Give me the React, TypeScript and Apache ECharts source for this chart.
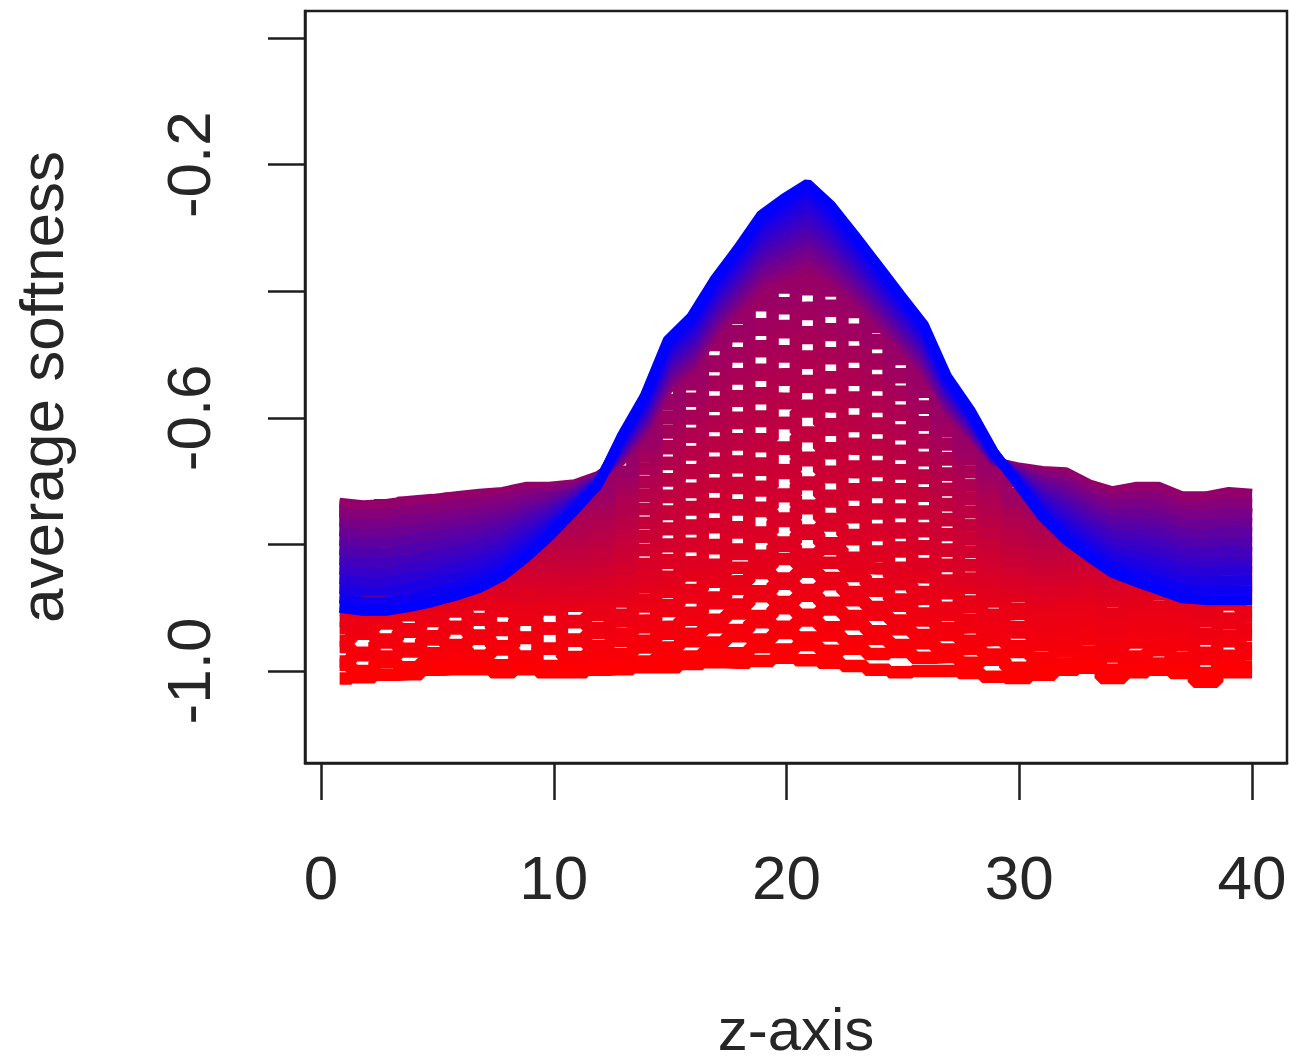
import React, { useEffect, useRef } from "react";
import * as echarts from "echarts";

const zPositions = [0.8,1.8,2.8,3.8,4.8,5.8,6.8,7.8,8.8,9.8,10.9,11.9,12.9,13.9,14.9,15.9,16.9,17.9,18.9,19.9,20.9,21.9,22.9,23.9,24.9,25.9,26.9,27.9,28.9,29.9,31,32,33,34,35,36,37,38,39,40];
const xTickValues = [0, 10, 20, 30, 40];
const yTickValues = [0, -0.2, -0.4, -0.6, -0.8, -1.0];
const yLabelValues = [-0.2, -0.6, -1.0];

// magnitude of the average softness, in thousandths (value = -m / 1000)
const redToPurpleLines = [
[1012,1010,1006,1005,998,997,997,1002,997,1002,1002,998,997,994,994,989,986,987,984,979,983,987,992,998,1002,1000,1000,1003,1009,1011,1006,998,995,1011,1002,998,1003,1017,1002,1002],
[990,1000,986,994,984,981,988,991,979,992,985,989,981,985,975,977,968,972,962,966,959,968,965,973,970,979,978,987,982,995,989,988,979,998,986,988,987,1003,985,993],
[985,975,977,969,972,965,976,966,977,965,978,970,973,963,963,953,955,945,950,940,947,944,953,949,959,956,966,965,974,970,979,969,969,977,977,967,979,981,976,973],
[962,971,955,965,950,959,949,961,948,965,952,961,952,952,941,941,931,935,923,930,920,931,926,937,934,943,943,952,951,961,959,958,949,965,955,958,959,971,953,964],
[952,941,950,938,945,933,944,935,947,933,950,940,941,931,930,919,919,909,913,901,911,903,913,911,920,920,932,931,942,939,947,940,938,947,944,941,947,949,945,943],
[932,935,925,934,921,930,919,932,919,933,923,932,921,920,905,908,893,895,882,891,881,892,888,899,897,909,911,919,922,931,929,927,923,937,927,928,929,941,925,933],
[921,917,915,912,915,906,918,905,916,903,921,911,911,898,896,884,884,870,874,862,872,863,875,873,887,886,900,899,911,910,919,911,911,919,915,911,919,921,917,914],
[903,903,901,899,898,897,895,895,897,900,897,902,890,887,875,872,859,858,845,854,843,853,850,863,863,875,877,890,890,902,900,899,893,909,896,899,901,911,895,906],
[893,889,887,885,883,881,881,881,879,885,887,883,882,867,861,849,847,837,835,823,833,829,837,838,851,852,868,869,882,882,890,883,883,889,889,879,892,892,887,885],
[884,878,878,874,878,870,879,863,883,867,883,872,874,854,851,832,832,815,818,802,816,807,821,818,837,835,857,855,873,871,885,869,877,884,876,876,880,886,878,880],
[874,870,868,872,866,868,857,875,859,873,867,873,855,852,829,828,806,808,788,797,783,798,792,811,811,831,834,854,854,872,867,875,859,874,868,864,872,880,868,870],
[868,862,864,858,860,854,863,847,865,857,869,855,856,833,825,803,801,781,781,763,778,770,785,785,805,807,832,833,855,855,869,853,863,868,860,862,864,870,860,866],
[860,858,852,856,850,852,843,859,845,861,853,859,837,831,803,799,773,773,747,759,743,760,757,777,781,803,810,833,836,857,853,859,845,862,854,852,858,864,854,858],
[852,848,850,844,846,840,851,837,853,843,855,840,838,809,800,775,768,745,742,724,739,732,749,751,775,779,808,812,836,839,855,841,849,852,848,846,850,856,848,850],
[846,842,840,842,836,838,829,843,835,847,837,843,819,809,776,770,741,738,715,721,705,723,721,745,749,775,785,811,818,841,837,845,831,846,840,838,844,848,838,844],
[838,834,836,830,832,826,837,825,839,827,841,825,820,788,775,745,736,711,709,687,702,694,713,717,745,751,784,791,818,823,841,827,835,838,832,832,836,842,834,836],
[830,828,826,828,822,824,815,831,821,833,823,827,800,787,752,741,709,703,682,683,667,685,686,710,719,748,762,790,799,825,823,831,817,832,826,824,830,834,826,830],
[824,820,822,816,818,814,825,813,827,815,827,810,802,766,748,717,704,678,672,649,663,656,677,684,713,723,760,770,800,807,827,813,821,824,820,818,822,828,820,822],
[816,814,810,814,808,812,803,819,807,819,809,813,782,766,725,712,679,669,645,647,629,648,649,677,688,719,738,770,781,809,809,817,803,818,812,810,816,820,812,816],
[810,806,808,802,804,800,811,799,813,801,813,795,784,744,723,687,671,642,634,608,623,619,641,650,683,695,736,749,782,791,813,799,807,810,806,804,808,812,806,808],
[802,800,796,800,794,798,789,805,793,805,795,797,764,744,699,683,645,634,605,608,590,610,613,643,657,691,714,748,763,793,795,803,789,804,798,796,802,806,798,802],
[794,792,792,786,790,786,797,785,799,787,797,779,766,722,697,658,639,608,598,577,581,582,605,616,652,667,712,728,763,775,797,785,793,796,792,790,794,798,792,794],
[788,784,780,784,778,782,775,791,779,791,781,782,747,723,673,654,613,600,569,570,551,572,575,609,626,663,690,727,745,777,781,787,775,790,784,782,788,792,784,788],
[780,778,776,772,776,772,783,771,785,773,783,764,748,702,671,630,606,573,561,540,542,544,568,582,620,639,688,707,746,760,783,771,779,782,778,776,780,784,778,780],
[774,770,766,770,764,768,761,777,765,777,767,767,729,701,648,625,581,566,532,531,513,536,540,575,595,635,666,707,727,762,767,773,761,776,770,768,774,778,770,774],
[766,764,762,758,762,758,769,757,771,759,769,749,730,680,645,601,575,538,524,503,503,506,531,548,589,611,664,686,728,744,769,757,765,768,764,762,766,770,764,766],
[760,756,752,756,750,754,747,763,751,761,751,752,711,680,623,597,548,531,495,495,474,498,503,541,564,607,642,685,709,746,753,759,747,762,756,754,760,764,756,760],
[754,752,750,746,750,746,755,743,749,739,747,733,713,659,620,573,543,503,487,465,465,469,496,514,559,584,641,664,709,729,755,743,751,754,750,748,752,756,750,752],
[750,746,742,746,740,744,737,749,733,743,731,737,697,660,600,570,518,498,461,455,436,460,469,508,536,582,621,666,692,733,743,749,737,750,746,744,750,752,746,748],
[746,744,744,740,742,738,741,729,737,725,735,722,701,643,598,547,511,471,452,427,426,431,461,482,531,559,621,649,698,720,745,733,741,746,742,740,744,748,742,744],
[742,744,740,738,736,734,727,735,721,731,719,727,685,645,578,543,485,463,422,419,397,423,433,477,507,557,602,653,685,727,731,735,725,740,738,736,740,744,738,740],
[738,742,738,734,732,728,726,724,716,716,714,712,686,632,572,525,475,442,410,394,383,399,421,456,499,541,598,640,682,700,700,702,716,726,720,720,732,732,726,730],
];

const purpleToBlueLines = [
[734,738,736,731,728,724,720,717,709,709,705,692,668,625,555,525,470,430,395,380,365,385,415,450,490,530,590,630,670,678,684,686,705,716,709,709,724,724,717,720],
[749,753,751,746,743,738,734,729,719,716,709,693,664,620,548,517,462,421,384,368,353,374,405,442,482,523,585,626,668,680,691,696,715,728,723,724,739,739,733,735],
[764,768,767,761,758,753,747,741,729,723,712,695,661,614,541,510,454,412,374,357,340,363,396,433,475,516,580,622,667,683,697,705,726,739,736,739,753,754,748,751],
[779,784,782,777,772,767,761,753,740,731,716,696,657,609,534,502,446,404,363,345,328,352,386,425,467,509,575,619,666,685,704,715,736,751,750,754,768,769,764,766],
[794,799,797,792,787,781,775,765,750,738,720,697,654,604,527,494,438,395,353,334,316,341,377,417,459,502,570,615,664,687,710,725,747,763,764,769,782,784,779,781],
[809,814,813,807,802,795,788,777,760,745,724,698,650,598,520,487,430,386,342,322,304,330,367,408,452,495,565,611,663,690,717,735,757,775,777,783,797,799,795,796],
[825,829,828,823,817,810,801,790,770,752,727,700,647,593,513,479,422,377,332,311,291,319,358,400,444,488,560,607,661,692,724,744,768,786,791,798,812,814,810,812],
[840,844,844,838,832,824,815,802,780,759,731,701,643,587,506,471,414,368,321,299,279,308,348,391,437,481,555,603,660,694,730,754,778,798,804,813,826,828,826,827],
[855,859,859,853,847,838,828,814,790,766,735,702,640,582,498,464,406,360,311,288,267,297,339,383,429,474,550,600,658,696,737,764,789,810,818,827,841,843,841,842],
[870,874,874,868,861,852,842,826,801,773,739,703,636,577,491,456,398,351,300,276,254,286,329,375,421,467,545,596,657,699,744,773,799,822,832,842,856,858,857,857],
[885,890,890,884,876,867,855,838,811,781,742,705,633,571,484,449,390,342,290,265,242,275,320,366,414,460,540,592,655,701,750,783,810,833,845,857,870,873,872,873],
[900,905,905,899,891,881,869,850,821,788,746,706,630,566,477,441,382,333,280,253,230,264,310,358,406,453,535,588,654,703,757,793,820,845,859,872,885,888,888,888],
];

const TEXT = "#262626";
const INK = "#1e1e1e";
const FONT = "'Liberation Sans', Arial, sans-serif";

export default function App() {
  const ref = useRef<HTMLDivElement>(null);
  useEffect(() => {
    const chart = echarts.init(ref.current!, undefined, { renderer: "svg" });
    const makeSeries = (m: number[], t: number, width: number, step: string | false) => ({
      type: "line",
      silent: true,
      symbol: "none",
      step,
      data: m.map((v, i) => [zPositions[i], -v / 1000]),
      lineStyle: {
        width,
        cap: "butt",
        join: "bevel",
        color: `rgb(${Math.round(255 * (1 - t))},0,${Math.round(255 * t)})`,
      },
    });
    const nLow = redToPurpleLines.length;
    const nUp = purpleToBlueLines.length;
    const series = [
      ...redToPurpleLines.map((m, k) => makeSeries(m, (0.4 * k) / (nLow - 1), 12.5, "middle")),
      ...purpleToBlueLines.map((m, j) => makeSeries(m, 0.42 + (0.58 * j) / (nUp - 1), 10, false)),
    ];
    chart.setOption({
      animation: false,
      backgroundColor: "#ffffff",
      textStyle: { fontFamily: FONT },
      grid: {
        left: 305,
        top: 11,
        width: 982,
        height: 752,
        outerBoundsMode: "none",
        containLabel: false,
        show: true,
        borderColor: INK,
        borderWidth: 2.5,
        backgroundColor: "transparent",
      },
      xAxis: {
        type: "value",
        min: -0.687,
        max: 41.5,
        name: "z-axis",
        nameLocation: "middle",
        nameGap: 236,
        nameTextStyle: { fontSize: 60, color: TEXT, fontFamily: FONT },
        splitLine: { show: false },
        axisLine: { show: true, onZero: false, lineStyle: { color: INK, width: 2.5 } },
        axisTick: {
          show: true,
          length: 37,
          customValues: xTickValues,
          lineStyle: { color: INK, width: 2.5 },
        },
        axisLabel: {
          show: true,
          customValues: xTickValues,
          margin: 83,
          fontSize: 62,
          color: TEXT,
          fontFamily: FONT,
          hideOverlap: false,
        },
      },
      yAxis: {
        type: "value",
        min: -1.1453,
        max: 0.0427,
        name: "average softness",
        nameLocation: "middle",
        nameRotate: 90,
        nameGap: 233,
        nameTextStyle: { fontSize: 62, color: TEXT, fontFamily: FONT },
        splitLine: { show: false },
        axisLine: { show: true, onZero: false, lineStyle: { color: INK, width: 2.5 } },
        axisTick: {
          show: true,
          length: 37,
          customValues: yTickValues,
          lineStyle: { color: INK, width: 2.5 },
        },
        axisLabel: {
          show: true,
          customValues: yLabelValues,
          rotate: 90,
          margin: 86,
          fontSize: 62,
          color: TEXT,
          fontFamily: FONT,
          hideOverlap: false,
          formatter: (v: number) => v.toFixed(1),
        },
      },
      series,
    });
    return () => chart.dispose();
  }, []);
  return (
    <div
      ref={ref}
      style={{ position: "absolute", left: 0, top: 0, width: 1289, height: 1062 }}
    />
  );
}
